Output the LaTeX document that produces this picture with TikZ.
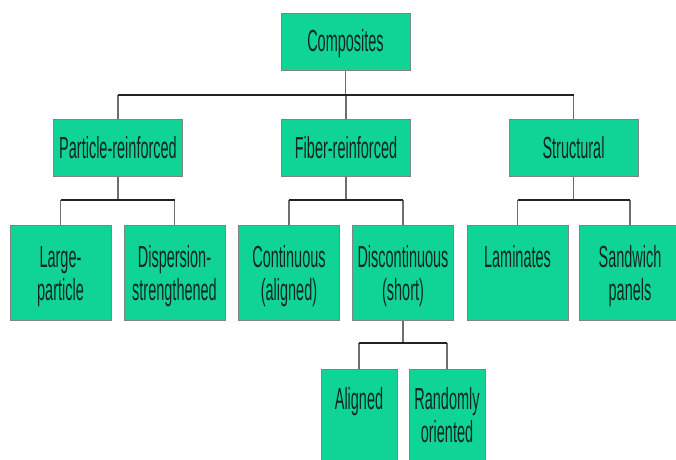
\documentclass[tikz,border=0pt]{standalone}
\usepackage{fontspec}
\setmainfont{Liberation Sans}[FakeStretch=0.475]
\usetikzlibrary{calc}
\definecolor{boxfill}{RGB}{16,212,150}
\definecolor{boxline}{RGB}{125,135,130}
\definecolor{txtcol}{RGB}{18,40,30}
\definecolor{hwirecol}{RGB}{35,35,35}
\definecolor{vwirecol}{RGB}{110,110,110}
\begin{document}
\begin{tikzpicture}[x=1pt,y=-1pt,
  box/.style={draw=boxline, line width=1pt, fill=boxfill, inner sep=0pt},
  topbox/.style={box, minimum width=129pt, minimum height=57pt},
  midbox/.style={box, minimum width=129pt, minimum height=57pt},
  lowbox/.style={box, minimum width=101pt, minimum height=95pt},
  leafbox/.style={box, minimum width=76pt, minimum height=100pt},
  lbl/.style={text=txtcol, font=\fontsize{30.5}{33}\selectfont, align=center, inner sep=0pt, anchor=base},
  hwire/.style={draw=hwirecol, line width=1.7pt},
  vwire/.style={draw=vwirecol, line width=1.9pt}]
\useasboundingbox (0,0) rectangle (676,459);
\clip (0,0) rectangle (676,459);
\fill[white] (0,0) rectangle (676,459);

% level 1
\node[topbox] (comp) at (345.5,41.5) {};
\node[lbl] (compT) at (345.5,51) {Composites};

% level 2
\node[midbox] (part) at (118,147.5) {};
\node[midbox] (fib) at (346,147.5) {};
\node[midbox] (struc) at (573.5,147.5) {};
\node[lbl] (partT) at (118,158) {Particle-reinforced};
\node[lbl] (fibT) at (346,158) {Fiber-reinforced};
\node[lbl] (strucT) at (573.5,158) {Structural};

% level 3
\node[lowbox] (large) at (60.5,272.5) {};
\node[lowbox] (disp) at (174.5,272.5) {};
\node[lowbox] (cont) at (289,272.5) {};
\node[lowbox] (disc) at (403,272.5) {};
\node[lowbox] (lam) at (517.5,272.5) {};
\node[lowbox] (sand) at (630,272.5) {};
\node[lbl] (largeT) at (60.5,300) {Large-\\particle};
\node[lbl] (dispT) at (174.5,300) {Dispersion-\\strengthened};
\node[lbl] (contT) at (289,300) {Continuous\\(aligned)};
\node[lbl] (discT) at (403,300) {Discontinuous\\(short)};
\node[lbl] (lamT) at (517.5,267) {Laminates};
\node[lbl] (sandT) at (630,300) {Sandwich\\panels};

% level 4
\node[leafbox] (alig) at (359,419) {};
\node[leafbox] (rand) at (447,419) {};
\node[lbl] (aligT) at (359,409) {Aligned};
\node[lbl] (randT) at (447,442) {Randomly\\oriented};

% connectors
\coordinate (b1) at (345.5,95);
\draw[vwire] (comp.south) -- (b1);
\draw[vwire] (part.north) -- (part.north |- b1);
\draw[vwire] (fib.north) -- (fib.north |- b1);
\draw[vwire] (struc.north) -- (struc.north |- b1);
\draw[hwire] (part.north |- b1) -- (struc.north |- b1);

\coordinate (b2) at (118,200);
\draw[vwire] (part.south) -- (b2);
\draw[vwire] (large.north) -- (large.north |- b2);
\draw[vwire] (disp.north) -- (disp.north |- b2);
\draw[hwire] (large.north |- b2) -- (disp.north |- b2);

\coordinate (b3) at (346,200);
\draw[vwire] (fib.south) -- (b3);
\draw[vwire] (cont.north) -- (cont.north |- b3);
\draw[vwire] (disc.north) -- (disc.north |- b3);
\draw[hwire] (cont.north |- b3) -- (disc.north |- b3);

\coordinate (b4) at (573.5,200);
\draw[vwire] (struc.south) -- (b4);
\draw[vwire] (lam.north) -- (lam.north |- b4);
\draw[vwire] (sand.north) -- (sand.north |- b4);
\draw[hwire] (lam.north |- b4) -- (sand.north |- b4);

\coordinate (b5) at (403,343);
\draw[vwire] (disc.south) -- (b5);
\draw[vwire] (alig.north) -- (alig.north |- b5);
\draw[vwire] (rand.north) -- (rand.north |- b5);
\draw[hwire] (alig.north |- b5) -- (rand.north |- b5);
\end{tikzpicture}
\end{document}
